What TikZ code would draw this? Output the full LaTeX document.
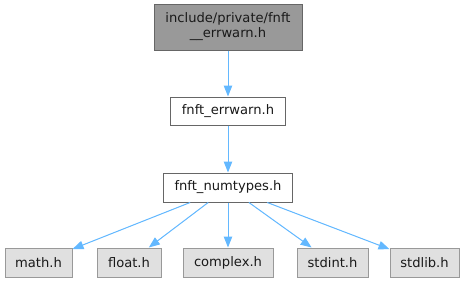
\documentclass[tikz,border=0pt]{standalone}
\usepackage{fontspec}
\setmainfont{DejaVu Sans}
\usetikzlibrary{arrows.meta}
\definecolor{edgeblue}{HTML}{63B8FF}
\definecolor{rootfill}{HTML}{999999}
\definecolor{rootline}{HTML}{666666}
\definecolor{sysfill}{HTML}{E0E0E0}
\definecolor{sysline}{HTML}{999999}
\begin{document}
\begin{tikzpicture}[x=1pt,y=-1pt,
  filebox/.style={rectangle, draw, line width=1pt, inner sep=0pt,
    font=\fontsize{13.1}{15}\selectfont, text=black!90, align=center},
  rootbox/.style={filebox, fill=rootfill, draw=rootline},
  localbox/.style={filebox, fill=white, draw=rootline},
  sysbox/.style={filebox, fill=sysfill, draw=sysline, minimum height=29pt},
  incl/.style={draw=edgeblue, line width=1pt,
    -{Triangle[length=11pt,width=8.5pt]}, fill=edgeblue}
]
\useasboundingbox (0,0) rectangle (466,282);

% header files
\node[rootbox, minimum width=148pt, minimum height=46pt] (root) at (228,27)
  {include/private/fnft\\\_\_errwarn.h};
\node[localbox, minimum width=115pt, minimum height=28pt] (errwarn) at (228,111)
  {fnft\_errwarn.h};
\node[localbox, minimum width=129pt, minimum height=29pt] (numtypes) at (228,187.5)
  {fnft\_numtypes.h};

% system headers
\node[sysbox, minimum width=67pt] (math) at (38.5,262.5) {math.h};
\node[sysbox, minimum width=64pt] (float) at (129,262.5) {float.h};
\node[sysbox, minimum width=90pt] (complex) at (228,262.5) {complex.h};
\node[sysbox, minimum width=71pt] (stdint) at (332.5,262.5) {stdint.h};
\node[sysbox, minimum width=69pt] (stdlib) at (424.5,262.5) {stdlib.h};

% include relations
\draw[incl] (root) -- (errwarn);
\draw[incl] (errwarn) -- (numtypes);
\draw[incl] (numtypes) -- (math);
\draw[incl] (numtypes) -- (float);
\draw[incl] (numtypes) -- (complex);
\draw[incl] (numtypes) -- (stdint);
\draw[incl] (numtypes) -- (stdlib);
\end{tikzpicture}
\end{document}
